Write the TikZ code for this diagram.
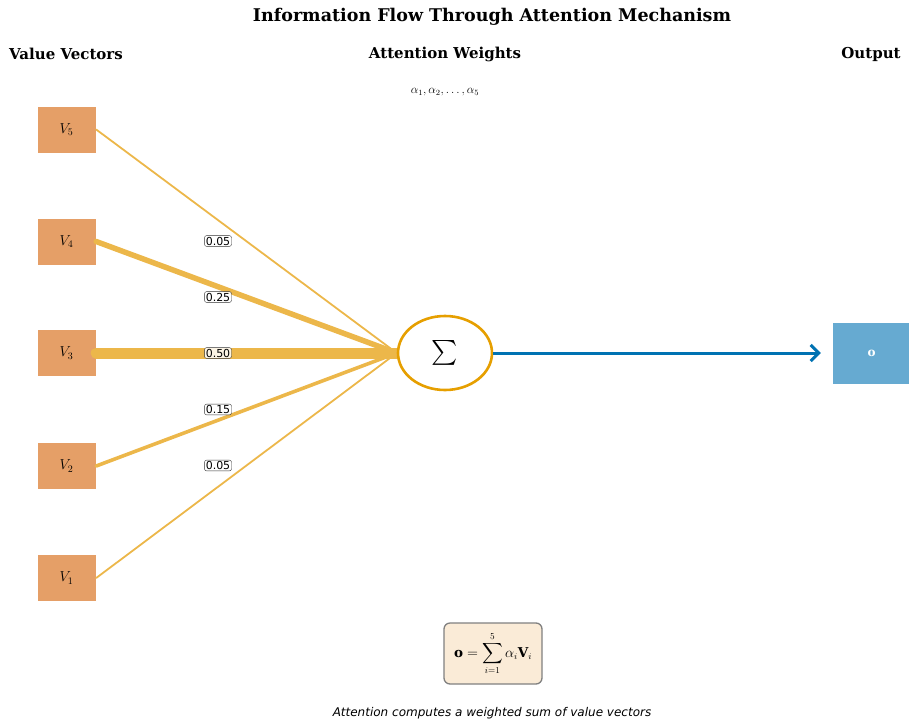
\documentclass[tikz,border=0pt]{standalone}
\usepackage{fontspec}
\usepackage{amsmath}
\setmainfont{DejaVu Serif}
\newfontfamily\labelfont{DejaVu Sans}
\usetikzlibrary{arrows.meta,shapes.geometric,backgrounds}
\definecolor{vecfill}{RGB}{229,159,103}
\definecolor{wline}{RGB}{236,183,74}
\definecolor{sumedge}{RGB}{230,159,0}
\definecolor{outblue}{RGB}{0,114,178}
\definecolor{outfill}{RGB}{102,170,209}
\definecolor{formfill}{RGB}{250,235,215}
\tikzset{
  x=1pt, y=-1pt,
  heading/.style={font=\bfseries\fontsize{15}{17}\selectfont, anchor=center},
  vecbox/.style={fill=vecfill, draw=white, line width=0.4pt, minimum width=59pt, minimum height=47pt,
    inner sep=0pt, font=\fontsize{14}{16}\selectfont},
  wedge/.style={draw=wline, line cap=round},
  wlabel/.style={draw=black!80, fill=white, fill opacity=0.85, text opacity=1, rounded corners=2pt,
    inner sep=1.2pt, font=\labelfont\fontsize{11}{12}\selectfont},
}
\begin{document}
\begin{tikzpicture}
\useasboundingbox (0,0) rectangle (909,720);

% titles
\node[font=\bfseries\fontsize{17.5}{20}\selectfont] (title) at (492,17) {Information Flow Through Attention Mechanism};
\node[heading] (hval) at (66,54) {Value Vectors};
\node[heading] (hatt) at (445,54) {Attention Weights};
\node[heading] (hout) at (871,54) {Output};
\node[font=\fontsize{11.5}{13}\selectfont] (alphas) at (445,92) {$\alpha_1,\alpha_2,\ldots,\alpha_5$};

% summation node
\node[draw=sumedge, line width=2.6pt, fill=white, ellipse, minimum width=94pt, minimum height=74pt, inner sep=0pt]
  (sum) at (445,353) {\fontsize{26}{26}\selectfont$\sum$};

% value vectors and weighted edges, behind the summation node
\begin{scope}[on background layer]
\node[vecbox] (v5) at (66.5,129.5) {$V_5$};
\node[vecbox] (v4) at (66.5,241.5) {$V_4$};
\node[vecbox] (v3) at (66.5,353) {$V_3$};
\node[vecbox] (v2) at (66.5,466) {$V_2$};
\node[vecbox] (v1) at (66.5,578) {$V_1$};
\draw[wedge, line width=1.8pt] (v5.east) -- (sum.west);
\draw[wedge, line width=5.5pt] (v4.east) -- (sum.west);
\draw[wedge, line width=11pt] (v3.east) -- (sum.west);
\draw[wedge, line width=3.6pt] (v2.east) -- (sum.west);
\draw[wedge, line width=1.8pt] (v1.east) -- (sum.west);
\end{scope}

% weight labels
\node[wlabel] (w5) at (218,241) {0.05};
\node[wlabel] (w4) at (218,297) {0.25};
\node[wlabel] (w3) at (218,353) {0.50};
\node[wlabel] (w2) at (218,409.5) {0.15};
\node[wlabel] (w1) at (218,465.5) {0.05};

% output
\node[fill=outfill, minimum width=77pt, minimum height=61pt, inner sep=0pt, text=white,
  font=\fontsize{12}{13}\selectfont] (out) at (871.5,353) {$\mathbf{o}$};
\draw[draw=outblue, line width=3pt, -{Straight Barb[length=8pt, width=16pt, line width=3pt]}]
  (sum.east) -- ([xshift=-12pt]out.west);

% formula
\node[draw=gray, line width=1.3pt, fill=formfill, rounded corners=6pt, minimum width=98pt, minimum height=61pt,
  inner sep=0pt, font=\fontsize{13.5}{15}\selectfont] (formula) at (493,653.5)
  {$\displaystyle \mathbf{o}=\sum_{i=1}^{5}\alpha_i\mathbf{V}_i$};

\node[font=\labelfont\itshape\fontsize{12}{14}\selectfont] (caption) at (492,713) {Attention computes a weighted sum of value vectors};
\end{tikzpicture}
\end{document}
